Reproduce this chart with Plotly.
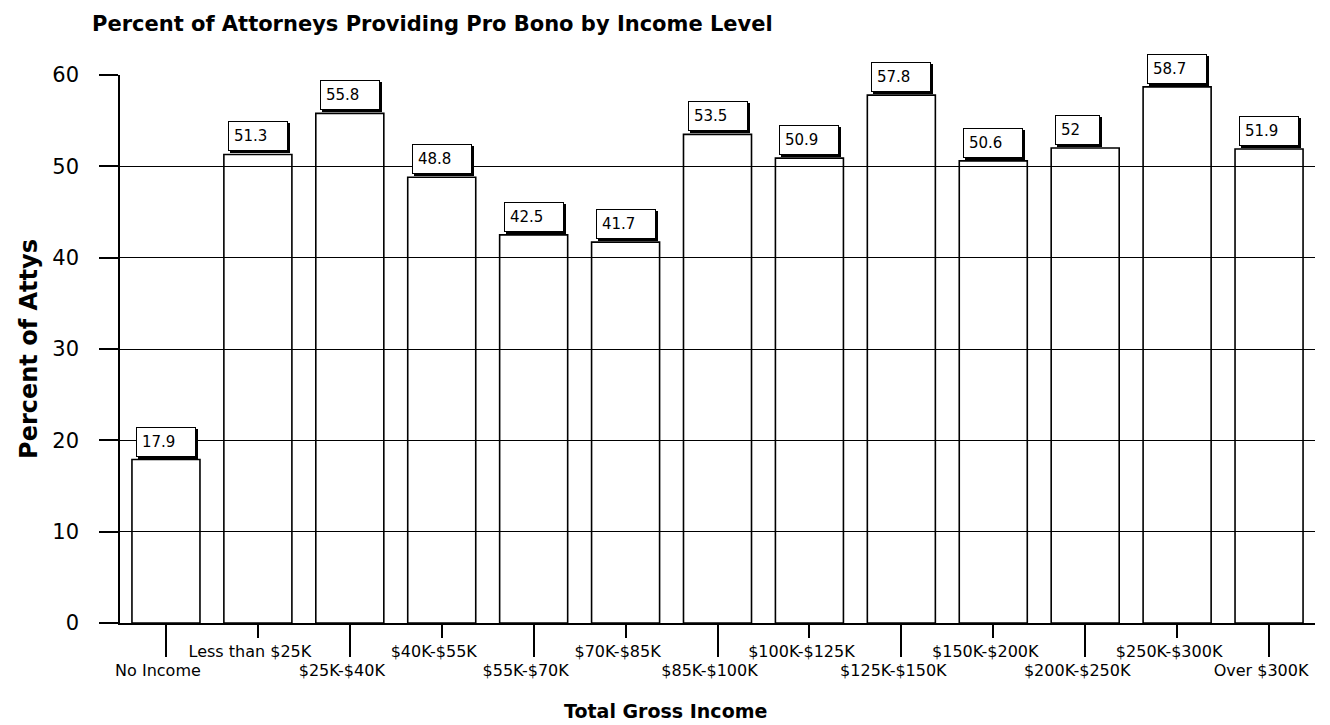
import plotly.graph_objects as go

categories = ["No Income", "Less than $25K", "$25K-$40K", "$40K-$55K", "$55K-$70K",
              "$70K-$85K", "$85K-$100K", "$100K-$125K", "$125K-$150K", "$150K-$200K",
              "$200K-$250K", "$250K-$300K", "Over $300K"]
values = [17.9, 51.3, 55.8, 48.8, 42.5, 41.7, 53.5, 50.9, 57.8, 50.6, 52, 58.7, 51.9]
value_labels = ["17.9", "51.3", "55.8", "48.8", "42.5", "41.7", "53.5", "50.9",
                "57.8", "50.6", "52", "58.7", "51.9"]
y_ticks = [0, 10, 20, 30, 40, 50, 60]

title_text = "Percent of Attorneys Providing Pro Bono by Income Level"
x_title = "Total Gross Income"
y_title = "Percent of Attys"

upper_cats = categories[1::2]
lower_cats = categories[0::2]

FONT = "DejaVu Sans, Verdana, sans-serif"

fig = go.Figure()
fig.add_trace(go.Bar(
    x=categories, y=values,
    marker=dict(color="rgba(0,0,0,0)", line=dict(color="black", width=1.6)),
    hoverinfo="x+y", showlegend=False,
))
# helper invisible trace for second (lower-row) category axis
fig.add_trace(go.Scatter(
    x=categories, y=values, xaxis="x2", mode="markers",
    marker=dict(opacity=0), hoverinfo="skip", showlegend=False,
))

for c, v, t in zip(categories, values, value_labels):
    for shadow in (True, False):
        fig.add_annotation(
            x=c, y=v, xref="x", yref="y",
            text=t + "&nbsp;&nbsp;&nbsp;",
            showarrow=False, xanchor="left", yanchor="bottom", align="left",
            xshift=-30 + (2 if shadow else 0), yshift=(1 if shadow else 3),
            font=dict(family=FONT, size=15, color="black"),
            bgcolor="black" if shadow else "white",
            bordercolor="black", borderwidth=1, borderpad=5,
        )

fig.add_annotation(
    x=(665 - 120) / 1195, y=-0.16, xref="paper", yref="paper",
    text=x_title, showarrow=False, xanchor="center", yanchor="middle",
    font=dict(family=FONT, size=19, color="black", weight="bold"),
)

fig.update_layout(
    width=1330, height=725,
    margin=dict(l=120, r=15, t=75, b=102),
    paper_bgcolor="white", plot_bgcolor="white",
    bargap=0.26,
    title=dict(text=title_text, x=92 / 1330, xref="container", xanchor="left",
               y=1 - 24 / 725, yref="container", yanchor="middle",
               font=dict(family=FONT, size=21, color="black", weight="bold")),
    xaxis=dict(
        type="category", categoryorder="array", categoryarray=categories,
        range=[-0.5, 12.5],
        tickmode="array", tickvals=upper_cats, ticktext=upper_cats,
        ticks="outside", ticklen=13, tickwidth=1.6, tickcolor="black",
        showline=True, linecolor="black", linewidth=1.6,
        showgrid=False, zeroline=False, ticklabelshift=-8,
        tickfont=dict(family=FONT, size=16, color="black"),
    ),
    xaxis2=dict(
        type="category", categoryorder="array", categoryarray=categories,
        overlaying="x", matches="x", anchor="y", side="bottom",
        tickmode="array", tickvals=lower_cats, ticktext=lower_cats,
        ticks="outside", ticklen=33, tickwidth=1.6, tickcolor="black",
        showline=False, showgrid=False, zeroline=False, ticklabelshift=-8,
        tickfont=dict(family=FONT, size=16, color="black"),
    ),
    yaxis=dict(
        range=[0, 60], tickmode="array", tickvals=y_ticks,
        ticks="outside", ticklen=19, tickwidth=1.6, tickcolor="black",
        showline=True, linecolor="black", linewidth=1.6,
        showgrid=True, gridcolor="black", gridwidth=1.4, zeroline=False,
        ticklabelstandoff=16,
        tickfont=dict(family=FONT, size=21, color="black"),
        title=dict(text=y_title, standoff=8,
                   font=dict(family=FONT, size=24, color="black", weight="bold")),
    ),
)

fig.write_html("out.html")
